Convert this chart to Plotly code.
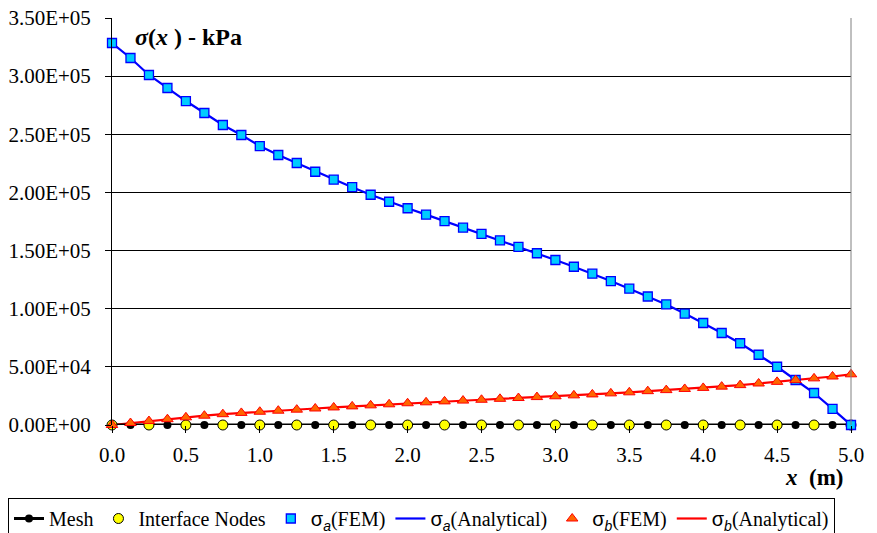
import plotly.graph_objects as go

x_nodes = [i * 0.125 for i in range(41)]
x_interface = [i * 0.25 for i in range(21)]
mesh_y = [0.0] * 41
interface_y = [0.0] * 21

sigma_a = [3.285e5, 3.156e5, 3.010e5, 2.898e5, 2.786e5, 2.683e5, 2.580e5, 2.494e5, 2.399e5,
           2.322e5, 2.253e5, 2.178e5, 2.110e5, 2.045e5, 1.980e5, 1.920e5, 1.864e5, 1.809e5,
           1.754e5, 1.697e5, 1.643e5, 1.588e5, 1.531e5, 1.477e5, 1.419e5, 1.361e5, 1.301e5,
           1.238e5, 1.172e5, 1.105e5, 1.037e5, 0.958e5, 0.877e5, 0.791e5, 0.703e5, 0.604e5,
           0.501e5, 0.387e5, 0.275e5, 0.138e5, 0.0]

sigma_b = [0.0, 1.7e3, 3.4e3, 5.0e3, 6.6e3, 8.0e3, 9.3e3, 1.04e4, 1.14e4, 1.23e4, 1.32e4,
           1.42e4, 1.51e4, 1.60e4, 1.69e4, 1.78e4, 1.87e4, 1.95e4, 2.03e4, 2.10e4, 2.17e4,
           2.25e4, 2.32e4, 2.40e4, 2.47e4, 2.55e4, 2.63e4, 2.72e4, 2.81e4, 2.91e4, 3.00e4,
           3.10e4, 3.19e4, 3.30e4, 3.43e4, 3.57e4, 3.71e4, 3.86e4, 4.01e4, 4.17e4, 4.36e4]

y_tickvals = [0, 5e4, 1e5, 1.5e5, 2e5, 2.5e5, 3e5, 3.5e5]
y_ticktext = ["0.00E+00", "5.00E+04", "1.00E+05", "1.50E+05", "2.00E+05", "2.50E+05",
              "3.00E+05", "3.50E+05"]

FONT = "Liberation Serif"


def sig(sub, rest):
    return f'<span style="font-family:Liberation Sans">σ<sub><i>{sub}</i></sub></span>{rest}'


fig = go.Figure()

fig.add_trace(go.Scatter(
    x=x_nodes, y=sigma_a, mode="lines", name=sig("a", "(Analytical)"),
    line=dict(color="#0000FF", width=2.2), legendrank=4, cliponaxis=False))
fig.add_trace(go.Scatter(
    x=x_nodes, y=sigma_b, mode="lines", name=sig("b", "(Analytical)"),
    line=dict(color="#FF0000", width=2.2), legendrank=6, cliponaxis=False))
fig.add_trace(go.Scatter(
    x=x_nodes, y=mesh_y, mode="lines+markers", name="Mesh",
    line=dict(color="black", width=3),
    marker=dict(symbol="circle", size=8, color="black"), legendrank=1, cliponaxis=False))
fig.add_trace(go.Scatter(
    x=x_interface, y=interface_y, mode="markers", name="Interface Nodes",
    marker=dict(symbol="circle", size=10, color="#FFFF00", line=dict(color="black", width=1)),
    legendrank=2, cliponaxis=False))
fig.add_trace(go.Scatter(
    x=x_nodes, y=sigma_a, mode="markers", name=sig("a", "(FEM)"),
    marker=dict(symbol="square", size=9, color="#00CCFF", line=dict(color="#0000FF", width=1.3)),
    legendrank=3, cliponaxis=False))
fig.add_trace(go.Scatter(
    x=x_nodes, y=sigma_b, mode="markers", name=sig("b", "(FEM)"),
    marker=dict(symbol="triangle-up", size=10, color="#FF6600", line=dict(color="#FF0000", width=1)),
    legendrank=5, cliponaxis=False))

fig.update_layout(
    width=877, height=533,
    margin=dict(l=112, r=26, t=18, b=108, autoexpand=False),
    paper_bgcolor="white", plot_bgcolor="white",
    font=dict(family=FONT, size=19, color="black"),
    showlegend=True,
    legend=dict(
        orientation="h", xref="paper", yref="paper",
        x=(8 - 112) / 739, y=-(498 - 425) / 407, xanchor="left", yanchor="top",
        bordercolor="black", borderwidth=1, bgcolor="white",
        font=dict(family=FONT, size=20), itemwidth=30, tracegroupgap=0,
        traceorder="normal",
    ),
    xaxis=dict(
        range=[0, 5], tickvals=[i * 0.5 for i in range(11)], tickformat=".1f",
        showgrid=False, zeroline=False, showline=False,
        ticks="outside", ticklen=7, tickcolor="black", ticklabelstandoff=4,
        tickfont=dict(family=FONT, size=21),
    ),
    yaxis=dict(
        range=[0, 3.5e5], tickvals=y_tickvals, ticktext=y_ticktext,
        showgrid=True, gridcolor="black", gridwidth=1, zeroline=False,
        showline=True, linecolor="black", linewidth=1,
        ticks="outside", ticklen=6, tickcolor="black", ticklabelstandoff=10,
        tickfont=dict(family=FONT, size=21),
    ),
    shapes=[dict(type="line", xref="paper", yref="paper", x0=1, x1=1, y0=0, y1=1,
                 line=dict(color="#808080", width=1))],
    annotations=[
        dict(text="<b><i>σ</i>(<i>x</i> ) - kPa</b>", xref="paper", yref="paper",
             x=(133 - 112) / 739, y=(425 - 37) / 407, xanchor="left", yanchor="middle",
             showarrow=False, font=dict(family=FONT, size=24)),
        dict(text="<b><i>x</i>  (m)</b>", xref="paper", yref="paper",
             x=(845 - 112) / 739, y=(425 - 477) / 407, xanchor="right", yanchor="middle",
             showarrow=False, font=dict(family=FONT, size=23)),
    ],
)

fig.write_html("out.html")
